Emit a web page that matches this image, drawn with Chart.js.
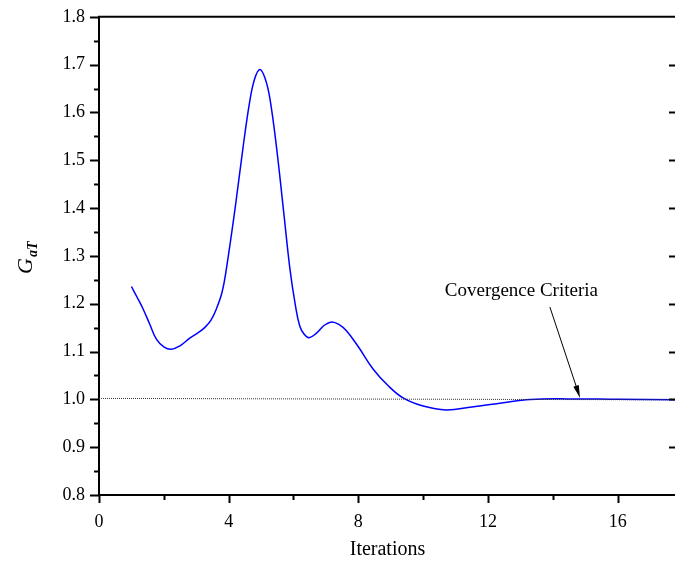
<!DOCTYPE html>
<html>
<head>
<meta charset="utf-8">
<script src="https://cdn.jsdelivr.net/npm/chart.js@4"></script>
<style>
  html, body { margin: 0; padding: 0; background: #fff; overflow: hidden; }
  #wrap { position: absolute; left: 0; top: 0; width: 685px; height: 563px; }
</style>
</head>
<body>
<div id="wrap"><canvas id="chart" width="685" height="563"></canvas></div>
<script>
// Data
const iterations = [1.0, 1.18, 1.36, 1.56, 1.77, 2.0, 2.23, 2.5, 2.8, 3.05, 3.26, 3.45, 3.62, 3.8, 3.93, 4.2, 4.44, 4.65, 4.8, 4.96, 5.12, 5.27, 5.48, 5.7, 5.89, 6.05, 6.19, 6.33, 6.48, 6.7, 6.95, 7.17, 7.4, 7.64, 8.0, 8.46, 8.9, 9.38, 10.0, 10.7, 11.5, 12.47, 13.3, 14.5, 16.0, 17.8];
const gatValues = [1.236, 1.213, 1.189, 1.158, 1.126, 1.110, 1.105, 1.112, 1.128, 1.139, 1.150, 1.165, 1.189, 1.225, 1.273, 1.40, 1.525, 1.623, 1.670, 1.690, 1.672, 1.630, 1.525, 1.39, 1.273, 1.20, 1.154, 1.136, 1.129, 1.138, 1.155, 1.162, 1.157, 1.143, 1.110, 1.063, 1.030, 1.003, 0.986, 0.978, 0.984, 0.993, 0.9997, 1.001, 1.000, 0.999];

// Convergence criterion (dotted reference line)
const criterionX = [0, 17.8];
const criterionY = [1.002, 0.999];

// Axis ranges / tick labels
const xRange = [0, 17.8];
const yRange = [0.8, 1.8];
const xTickLabels = [0, 4, 8, 12, 16];
const yStep = 0.1;

// Annotation (data coords)
const noteText = 'Covergence Criteria';
const notePos = [13.03, 1.227];
const arrowFrom = [13.91, 1.193];
const arrowTo = [14.84, 1.003];

const serif = '"Liberation Serif", "Times New Roman", serif';

// Draw tick marks, top frame, titles and annotation
const decorations = {
  id: 'decorations',
  afterDraw(chart) {
    const { ctx, chartArea: a, scales: { x, y } } = chart;
    ctx.save();
    ctx.strokeStyle = '#000';
    ctx.lineWidth = 2;

    // top frame
    ctx.beginPath();
    ctx.moveTo(a.left - 1, a.top);
    ctx.lineTo(a.right + 1, a.top);
    ctx.stroke();

    // x ticks (major every 4, minor every 2)
    for (let i = 0; i * 2 <= x.max; i++) {
      const px = Math.round(x.getPixelForValue(i * 2)) + 0.5;
      const len = i % 2 === 0 ? 8 : 5;
      ctx.beginPath();
      ctx.moveTo(px, a.bottom);
      ctx.lineTo(px, a.bottom + len);
      ctx.stroke();
    }
    // y ticks (major every 0.1, minor every 0.05)
    for (let i = 0; i <= 20; i++) {
      const py = Math.round(y.getPixelForValue(yRange[0] + i * 0.05)) + 0.5;
      const len = i % 2 === 0 ? 9 : 5;
      ctx.beginPath();
      ctx.moveTo(a.left, py);
      ctx.lineTo(a.left - len, py);
      ctx.stroke();
      if (i % 2 === 0 && i > 0 && i < 20) {
        ctx.beginPath();
        ctx.moveTo(a.right, py);
        ctx.lineTo(a.right - 7, py);
        ctx.stroke();
      }
    }

    ctx.fillStyle = '#000';
    // x title
    ctx.font = '20px ' + serif;
    ctx.textAlign = 'center';
    ctx.textBaseline = 'middle';
    ctx.fillText('Iterations', (a.left + a.right) / 2, 550);

    // y title G_aT (rotated)
    ctx.save();
    ctx.translate(32, 274);
    ctx.rotate(-Math.PI / 2);
    ctx.textAlign = 'left';
    ctx.textBaseline = 'alphabetic';
    ctx.font = 'italic 22px ' + serif;
    ctx.fillText('G', 0, 0);
    const gw = ctx.measureText('G').width;
    ctx.font = 'italic bold 14px ' + serif;
    ctx.fillText('aT', gw + 1, 5);
    ctx.restore();

    // annotation text
    ctx.font = '19px ' + serif;
    ctx.textAlign = 'center';
    ctx.textBaseline = 'middle';
    ctx.fillText(noteText, x.getPixelForValue(notePos[0]), y.getPixelForValue(notePos[1]));

    // arrow
    const x1 = x.getPixelForValue(arrowFrom[0]), y1 = y.getPixelForValue(arrowFrom[1]);
    const x2 = x.getPixelForValue(arrowTo[0]), y2 = y.getPixelForValue(arrowTo[1]);
    const ang = Math.atan2(y2 - y1, x2 - x1);
    ctx.lineWidth = 1;
    ctx.beginPath();
    ctx.moveTo(x1, y1);
    ctx.lineTo(x2 - 10 * Math.cos(ang), y2 - 10 * Math.sin(ang));
    ctx.stroke();
    ctx.beginPath();
    ctx.moveTo(x2, y2);
    ctx.lineTo(x2 - 13 * Math.cos(ang - 0.22), y2 - 13 * Math.sin(ang - 0.22));
    ctx.lineTo(x2 - 13 * Math.cos(ang + 0.22), y2 - 13 * Math.sin(ang + 0.22));
    ctx.closePath();
    ctx.fill();

    ctx.restore();
  }
};

const ctx = document.getElementById('chart').getContext('2d');
new Chart(ctx, {
  type: 'line',
  data: {
    datasets: [
      {
        label: 'Criterion',
        data: criterionX.map((v, i) => ({ x: v, y: criterionY[i] })),
        borderColor: '#333',
        borderWidth: 1,
        borderDash: [1, 1],
        pointRadius: 0,
        fill: false
      },
      {
        label: 'GaT',
        data: iterations.map((v, i) => ({ x: v, y: gatValues[i] })),
        borderColor: '#0000ff',
        borderWidth: 1.5,
        pointRadius: 0,
        tension: 0.4,
        fill: false
      }
    ]
  },
  options: {
    responsive: false,
    animation: false,
    layout: { padding: { left: 0, top: 14, right: 9, bottom: 0 } },
    plugins: {
      legend: { display: false },
      tooltip: { enabled: false }
    },
    scales: {
      x: {
        type: 'linear',
        min: xRange[0],
        max: xRange[1],
        grid: { display: false },
        border: { display: true, color: '#000', width: 2 },
        afterBuildTicks(scale) { scale.ticks = xTickLabels.map(v => ({ value: v })); },
        ticks: {
          padding: 8,
          color: '#000',
          font: { family: serif, size: 18 },
          maxRotation: 0,
          autoSkip: false
        },
        afterFit(scale) { scale.height = 68; }
      },
      y: {
        min: yRange[0],
        max: yRange[1],
        grid: { display: false },
        border: { display: true, color: '#000', width: 2 },
        ticks: {
          stepSize: yStep,
          padding: 6,
          color: '#000',
          font: { family: serif, size: 18 },
          callback: v => v.toFixed(1)
        },
        afterFit(scale) { scale.width = 99; }
      }
    }
  },
  plugins: [decorations]
});
</script>
</body>
</html>
